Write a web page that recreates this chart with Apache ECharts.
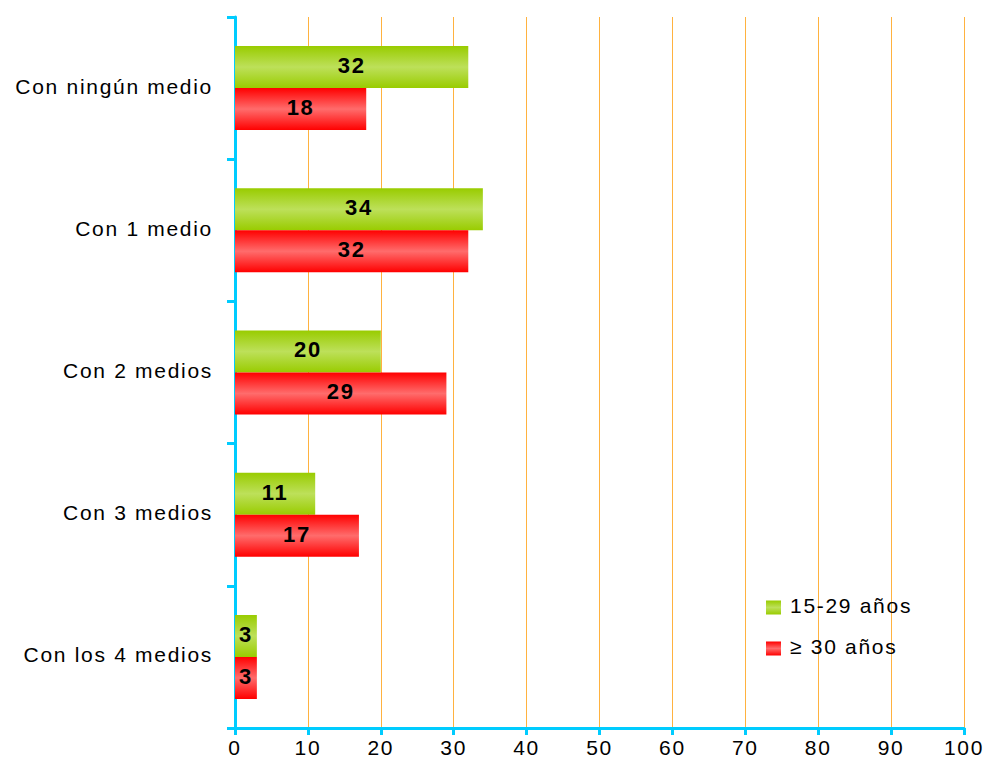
<!DOCTYPE html>
<html>
<head>
<meta charset="utf-8">
<script src="https://cdn.jsdelivr.net/npm/echarts@6/dist/echarts.min.js"></script>
<style>
  html, body { margin: 0; padding: 0; background: #fff; }
  /* el original lleva el texto algo espaciado */
  #chart { width: 989px; height: 776px; letter-spacing: 1.7px; }
  #chart svg text { dominant-baseline: middle; }
</style>
</head>
<body>
<div id="chart"></div>
<script>
// datos
var categories = ['Con ningún medio', 'Con 1 medio', 'Con 2 medios', 'Con 3 medios', 'Con los 4 medios'];
var jovenes = [32, 34, 20, 11, 3];   // 15-29 años
var adultos = [18, 32, 29, 17, 3];   // >= 30 años
var seriesNames = ['15-29 años', '≥ 30 años'];
var xTicks = [0, 10, 20, 30, 40, 50, 60, 70, 80, 90, 100];

var font = '"Liberation Sans", Arial, sans-serif';

function grad(edge, mid) {
  return new echarts.graphic.LinearGradient(0, 0, 0, 1, [
    { offset: 0, color: edge },
    { offset: 0.5, color: mid },
    { offset: 1, color: edge }
  ]);
}

var myChart = echarts.init(document.getElementById('chart'), null, { renderer: 'svg' });
var label = {
  show: true,
  position: 'inside',
  color: '#000',
  fontWeight: 'bold',
  fontSize: 22,
  fontFamily: font
};

var options = {
  animation: false,
  grid: { left: 235, right: 25, top: 17, bottom: 48, containLabel: false },
  legend: {
    orient: 'vertical',
    left: 766,
    top: 597,
    padding: 0,
    itemWidth: 15,
    itemHeight: 14,
    itemGap: 20,
    icon: 'rect',
    textStyle: { fontSize: 21, fontFamily: font, color: '#000', padding: [0, 0, 0, 4] },
    data: seriesNames
  },
  xAxis: {
    type: 'value',
    min: xTicks[0],
    max: xTicks[xTicks.length - 1],
    interval: 10,
    axisLine: { show: true, lineStyle: { color: '#00CCFF', width: 3 } },
    axisTick: { show: true, length: 7, lineStyle: { color: '#00CCFF', width: 3 } },
    axisLabel: { fontSize: 21, fontFamily: font, color: '#000', margin: 11 },
    splitLine: { show: true, lineStyle: { color: '#FFB23F', width: 1 } }
  },
  yAxis: {
    type: 'category',
    inverse: true,
    data: categories,
    axisLine: { show: true, lineStyle: { color: '#00CCFF', width: 3 } },
    axisTick: { show: true, length: 8, lineStyle: { color: '#00CCFF', width: 3 } },
    axisLabel: { fontSize: 21, fontFamily: font, color: '#000', margin: 22 },
    splitLine: { show: false }
  },
  series: [
    {
      name: seriesNames[0],
      type: 'bar',
      data: jovenes,
      barWidth: 42,
      barGap: '0%',
      itemStyle: { color: grad('#99CC00', '#BDE05A') },
      label: label
    },
    {
      name: seriesNames[1],
      type: 'bar',
      data: adultos,
      barWidth: 42,
      barGap: '0%',
      itemStyle: { color: grad('#FF0000', '#FF6C6C') },
      label: label
    }
  ]
};
myChart.setOption(options);
</script>
</body>
</html>
